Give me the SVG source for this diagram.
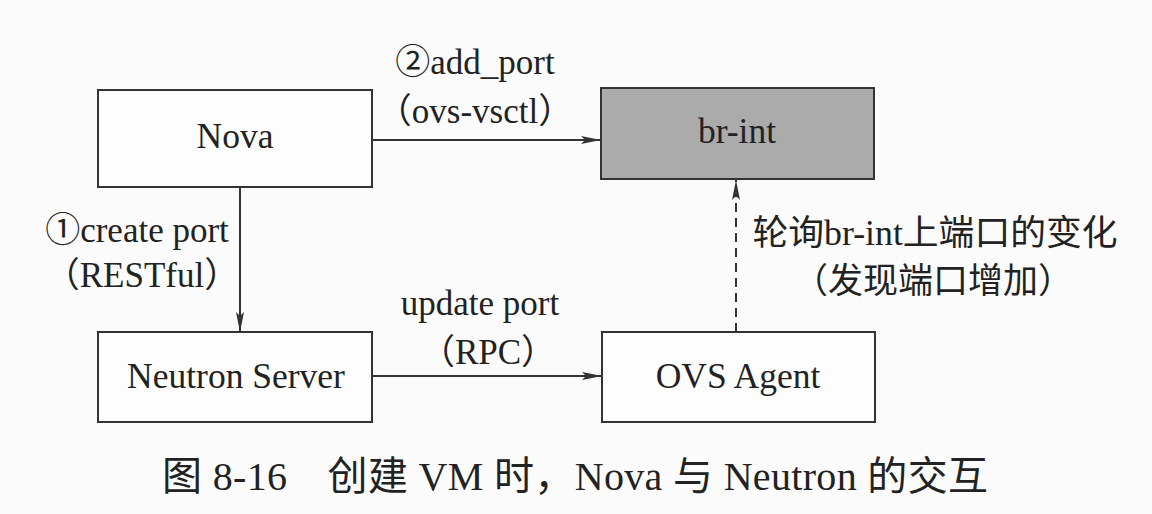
<svg xmlns="http://www.w3.org/2000/svg" width="1152" height="514" viewBox="0 0 1152 514">
<defs>
<style>
.box{fill:#fdfdfd;stroke:#333;stroke-width:2}
.gray{fill:#ababab;stroke:#333;stroke-width:2}
.t{font-family:"Liberation Serif","Noto Sans CJK SC",serif;font-size:35.5px;fill:#222;text-anchor:middle}
.l{font-family:"Liberation Serif","Noto Sans CJK SC",serif;font-size:35px;fill:#222;text-anchor:middle}
.cn{font-family:"Liberation Serif","Noto Sans CJK SC",serif;font-size:35px;fill:#222;text-anchor:middle}
.cap{font-family:"Liberation Serif","Noto Sans CJK SC",serif;font-size:40px;fill:#222}
.ln{fill:none;stroke:#333;stroke-width:2}
</style>
<marker id="ah" viewBox="0 0 20 10" refX="20" refY="5" markerWidth="20" markerHeight="10" markerUnits="userSpaceOnUse" orient="auto">
<path d="M0,1 L20,5 L0,9 L4,5 Z" fill="#333"/>
</marker>
</defs>
<rect width="1152" height="514" fill="#fbfbfb"/>
<g id="nova">
<rect class="box" x="98" y="90" width="274" height="97"/>
<text class="t" x="235" y="148">Nova</text>
</g>
<g id="br-int">
<rect class="gray" x="601" y="88" width="273" height="91"/>
<text class="t" x="737" y="143">br-int</text>
</g>
<g id="neutron-server">
<rect class="box" x="98" y="332" width="274" height="90"/>
<text class="t" x="236" y="388">Neutron Server</text>
</g>
<g id="ovs-agent">
<rect class="box" x="602" y="332" width="273" height="90"/>
<text class="t" x="738" y="388">OVS Agent</text>
</g>
<g id="connectors">
<line class="ln" x1="372" y1="140" x2="601" y2="140" marker-end="url(#ah)"/>
<line class="ln" x1="240" y1="187" x2="240" y2="332" marker-end="url(#ah)"/>
<line class="ln" x1="372" y1="376" x2="602" y2="376" marker-end="url(#ah)"/>
<line class="ln" x1="736" y1="332" x2="736" y2="180" stroke-dasharray="9,6" marker-end="url(#ah)"/>
<text class="l" x="475" y="74">②add_port</text>
<text class="l" x="475" y="123">（ovs-vsctl）</text>
<text class="l" x="137" y="242">①create port</text>
<text class="l" x="142" y="287">（RESTful）</text>
<text class="l" x="480" y="315">update port</text>
<text class="l" x="488" y="364">（RPC）</text>
<text class="cn" x="935" y="245" textLength="365" lengthAdjust="spacingAndGlyphs">轮询br-int上端口的变化</text>
<text class="cn" x="933" y="293">（发现端口增加）</text>
</g>
<text class="cap" x="162" y="490" textLength="826" lengthAdjust="spacing">图 8-16　创建 VM 时，Nova 与 Neutron 的交互</text>
</svg>
